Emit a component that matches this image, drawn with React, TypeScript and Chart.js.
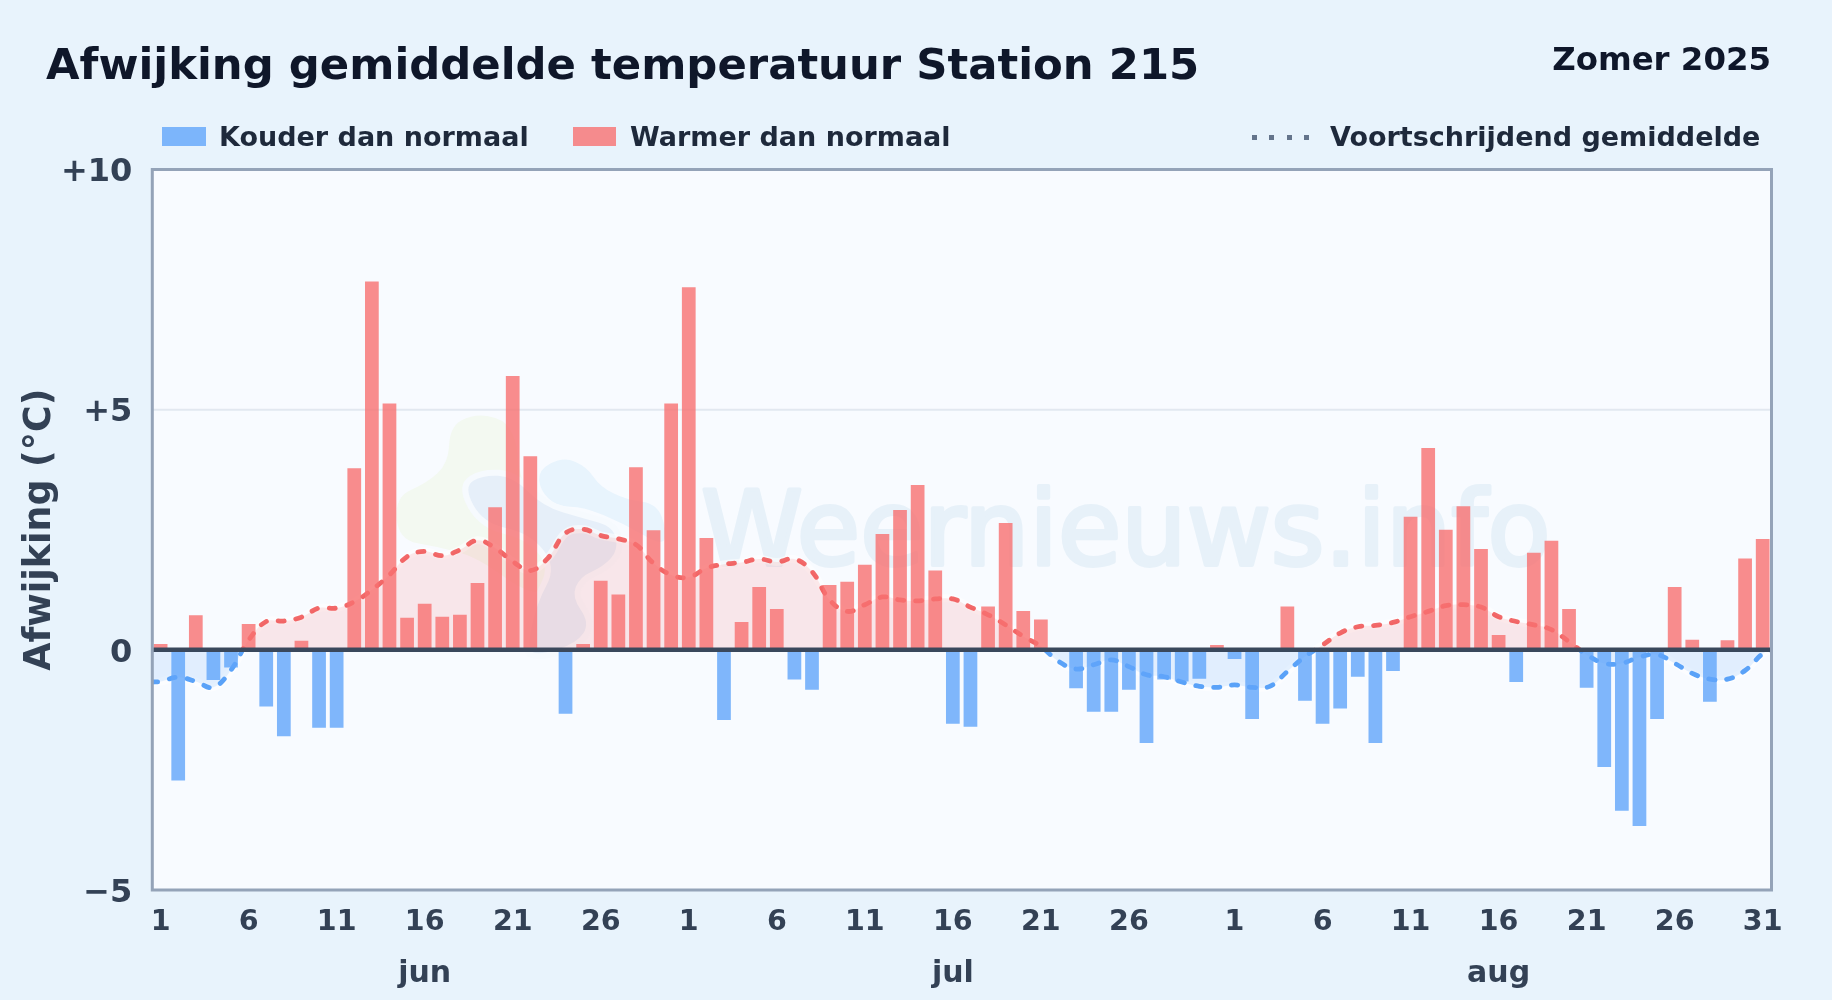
import React, { useEffect, useRef } from "react";
import { Chart, registerables } from "chart.js";

Chart.register(...registerables);

const junValues = [0.12, -2.72, 0.72, -0.63, -0.37, 0.54, -1.18, -1.8, 0.19, -1.62, -1.62, 3.78, 7.67, 5.13, 0.67, 0.96, 0.69, 0.73, 1.39, 2.97, 5.7, 4.03, 0, -1.33, 0.12, 1.44, 1.15, 3.8, 2.49, 5.13];
const julValues = [7.55, 2.33, -1.46, 0.58, 1.31, 0.85, -0.62, -0.83, 1.35, 1.42, 1.77, 2.41, 2.91, 3.43, 1.65, -1.54, -1.6, 0.9, 2.64, 0.81, 0.63, 0, -0.8, -1.29, -1.29, -0.83, -1.94, -0.62, -0.66, -0.6, 0.1];
const augValues = [-0.19, -1.44, 0, 0.9, -1.06, -1.54, -1.22, -0.56, -1.94, -0.44, 2.77, 4.2, 2.5, 2.99, 2.1, 0.31, -0.67, 2.02, 2.27, 0.85, -0.79, -2.44, -3.35, -3.67, -1.44, 1.31, 0.21, -1.08, 0.2, 1.9, 2.31];

const junAvg = [-0.66, -0.57, -0.66, -0.78, -0.42, 0.2, 0.59, 0.6, 0.68, 0.87, 0.87, 1.0, 1.25, 1.56, 1.94, 2.05, 1.96, 2.08, 2.28, 2.12, 1.84, 1.65, 1.91, 2.43, 2.51, 2.38, 2.31, 2.19, 1.8, 1.56];
const julAvg = [1.51, 1.7, 1.78, 1.82, 1.89, 1.83, 1.89, 1.63, 1.04, 0.8, 0.94, 1.1, 1.04, 1.02, 1.06, 1.06, 0.89, 0.73, 0.52, 0.28, 0.07, -0.24, -0.4, -0.31, -0.21, -0.35, -0.52, -0.56, -0.67, -0.76, -0.78];
const augAvg = [-0.73, -0.78, -0.76, -0.45, -0.14, 0.1, 0.35, 0.48, 0.51, 0.57, 0.69, 0.8, 0.92, 0.94, 0.89, 0.69, 0.59, 0.52, 0.42, 0.17, -0.1, -0.28, -0.28, -0.15, -0.1, -0.28, -0.49, -0.61, -0.61, -0.43, -0.08];
const avgStart = -0.67;
const avgEnd = 0;

const yTickValues = [-5, 0, 5, 10];
const monthNames = ["jun", "jul", "aug"];
const title = "Afwijking gemiddelde temperatuur Station 215";
const subtitle = "Zomer 2025";
const legendCold = "Kouder dan normaal";
const legendWarm = "Warmer dan normaal";
const legendAvg = "Voortschrijdend gemiddelde";
const yAxisTitle = "Afwijking (°C)";
const watermark = "Weernieuws.info";

const values = [...junValues, ...julValues, ...augValues];
const monthLengths = [junValues.length, julValues.length, augValues.length];
const categories: string[] = [];
const dayTicks: string[] = [];
const monthTicks: string[] = [];
monthLengths.forEach((len, m) => {
  for (let d = 1; d <= len; d++) {
    categories.push(`${monthNames[m]} ${d}`);
    const hide = m === 1 && d === 31;
    dayTicks.push((d - 1) % 5 === 0 && !hide ? String(d) : "");
    monthTicks.push(d === 16 ? monthNames[m] : "");
  }
});
const avgPoints = [
  { x: -0.5, y: avgStart },
  ...[...junAvg, ...julAvg, ...augAvg].map((y, i) => ({ x: i, y })),
  { x: values.length - 0.5, y: avgEnd },
];

const BLUE = "rgba(96,165,250,0.8)";
const RED = "rgba(248,113,113,0.8)";
const FONT = '"DejaVu Sans", sans-serif';

// decorative logo behind the data, in page pixels of the reference
const toPage = (p: number[]) => [370 + p[0] / 3, 390 + p[1] / 3];
const greenBlob = [[240, 110], [310, 72], [400, 85], [440, 150], [445, 240], [500, 400], [565, 480], [585, 540], [540, 600], [470, 610], [320, 500], [200, 470], [85, 450], [75, 320], [170, 280], [235, 220]];
const midBlob = [[280, 290], [340, 255], [430, 260], [520, 350], [640, 385], [730, 410], [745, 480], [700, 530], [630, 560], [605, 620], [660, 700], [620, 760], [510, 795], [470, 780], [500, 640], [560, 530], [480, 430], [340, 400]];
const lightBlob = [[505, 240], [580, 200], [650, 230], [690, 290], [770, 330], [860, 340], [890, 420], [880, 470], [760, 400], [640, 350], [560, 350], [510, 300]];

function blobPath(ctx: CanvasRenderingContext2D, pts: number[][]) {
  const p = pts.map(toPage);
  ctx.beginPath();
  const n = p.length;
  ctx.moveTo((p[n - 1][0] + p[0][0]) / 2, (p[n - 1][1] + p[0][1]) / 2);
  for (let i = 0; i < n; i++) {
    const next = p[(i + 1) % n];
    ctx.quadraticCurveTo(p[i][0], p[i][1], (p[i][0] + next[0]) / 2, (p[i][1] + next[1]) / 2);
  }
  ctx.closePath();
}

const decoPlugin = {
  id: "deco",
  beforeDatasetsDraw(chart: any) {
    const { ctx, chartArea: a } = chart;
    ctx.save();
    ctx.fillStyle = "#f8fbff";
    ctx.fillRect(a.left, a.top, a.right - a.left, a.bottom - a.top);
    const { y } = chart.scales;
    ctx.strokeStyle = "#e2e8f0";
    ctx.lineWidth = 2;
    ctx.beginPath();
    ctx.moveTo(a.left, y.getPixelForValue(5));
    ctx.lineTo(a.right, y.getPixelForValue(5));
    ctx.stroke();
    blobPath(ctx, greenBlob);
    ctx.fillStyle = "#f3f9f1";
    ctx.fill();
    blobPath(ctx, lightBlob);
    ctx.fillStyle = "#e8f4fd";
    ctx.fill();
    blobPath(ctx, midBlob);
    ctx.strokeStyle = "#f6fafe";
    ctx.lineWidth = 12;
    ctx.stroke();
    ctx.fillStyle = "#e6eff9";
    ctx.fill();
    ctx.fillStyle = "#e7f1f9";
    ctx.strokeStyle = "#e7f1f9";
    ctx.lineWidth = 4;
    ctx.lineJoin = "round";
    ctx.font = `103px ${FONT}`;
    ctx.textAlign = "left";
    ctx.textBaseline = "alphabetic";
    ctx.fillText(watermark, 701, 565);
    ctx.strokeText(watermark, 701, 565);
    ctx.restore();
  },
  afterDatasetsDraw(chart: any) {
    const { ctx, chartArea: a } = chart;
    const zero = chart.scales.y.getPixelForValue(0);
    ctx.save();
    ctx.strokeStyle = "#3a485c";
    ctx.lineWidth = 4.5;
    ctx.beginPath();
    ctx.moveTo(a.left, zero);
    ctx.lineTo(a.right, zero);
    ctx.stroke();
    ctx.strokeStyle = "#94a3b8";
    ctx.lineWidth = 3;
    ctx.strokeRect(a.left + 0.5, a.top, a.right - a.left - 0.5, a.bottom - a.top);
    ctx.restore();
  },
};

function splitStroke(context: any) {
  const chart = context.chart;
  const a = chart.chartArea;
  if (!a) return "#f87171";
  const z = chart.scales.y.getPixelForValue(0);
  const g = chart.ctx.createLinearGradient(0, a.top, 0, a.bottom);
  const s = (z - a.top) / (a.bottom - a.top);
  g.addColorStop(0, "rgba(239,68,68,0.8)");
  g.addColorStop(s, "rgba(239,68,68,0.8)");
  g.addColorStop(s, "#5aa2f8");
  g.addColorStop(1, "#5aa2f8");
  return g;
}

const text = (style: React.CSSProperties): React.CSSProperties => ({
  position: "absolute",
  fontFamily: FONT,
  fontWeight: 700,
  whiteSpace: "nowrap",
  lineHeight: 1,
  ...style,
});

export default function App() {
  const ref = useRef<HTMLCanvasElement>(null);
  useEffect(() => {
    document.body.style.margin = "0";
    const chart = new Chart(ref.current as HTMLCanvasElement, {
      type: "bar",
      data: {
        labels: categories,
        datasets: [
          {
            type: "bar",
            data: values,
            xAxisID: "x",
            yAxisID: "y",
            order: 1,
            grouped: false,
            backgroundColor: values.map((v) => (v < 0 ? BLUE : RED)),
            barPercentage: 0.78,
            categoryPercentage: 1,
          },
          {
            type: "line",
            data: avgPoints,
            xAxisID: "xAvg",
            yAxisID: "y",
            order: 2,
            borderColor: splitStroke,
            borderWidth: 4.8,
            borderDash: [6, 12],
            borderCapStyle: "round",
            tension: 0.4,
            pointRadius: 0,
            fill: {
              target: { value: 0 },
              above: "rgba(248,113,113,0.15)",
              below: "rgba(96,165,250,0.15)",
            },
          },
          {
            type: "line",
            data: avgPoints,
            xAxisID: "xAvg",
            yAxisID: "y",
            order: 3,
            borderColor: "rgba(255,255,255,0.55)",
            borderWidth: 8,
            tension: 0.4,
            pointRadius: 0,
            fill: false,
          },
        ],
      } as any,
      options: {
        animation: false,
        responsive: false,
        layout: { padding: { top: 169.5, right: 60.5, left: 0, bottom: 0 } },
        plugins: { legend: { display: false }, tooltip: { enabled: false } },
        scales: {
          x: {
            type: "category",
            position: "bottom",
            offset: true,
            grid: { display: false },
            border: { display: false },
            afterFit: (s: any) => { s.height = 55; },
            ticks: {
              autoSkip: false,
              maxRotation: 0,
              minRotation: 0,
              padding: 7,
              color: "#334155",
              font: { family: FONT, weight: "bold", size: 28.5 },
              callback: (_: any, i: number) => dayTicks[i],
            },
          },
          xMonth: {
            type: "category",
            position: "bottom",
            labels: monthTicks,
            offset: true,
            grid: { display: false },
            border: { display: false },
            afterFit: (s: any) => { s.height = 55; },
            ticks: {
              autoSkip: false,
              maxRotation: 0,
              minRotation: 0,
              padding: 3,
              color: "#334155",
              font: { family: FONT, weight: "bold", size: 30 },
              callback: (_: any, i: number) => monthTicks[i],
            },
          },
          xAvg: { type: "linear", display: false, offset: false, min: -0.5, max: values.length - 0.5 },
          y: { type: "linear", display: false, min: -5, max: 10 },
          yLabels: {
            type: "linear",
            position: "left",
            min: -4.927,
            max: 10.073,
            grid: { display: false },
            border: { display: false },
            afterFit: (s: any) => { s.width = 151.8; },
            afterBuildTicks: (s: any) => { s.ticks = yTickValues.map((value) => ({ value })); },
            title: {
              display: true,
              text: yAxisTitle,
              color: "#334155",
              padding: { top: 19, bottom: 0 },
              font: { family: FONT, weight: "bold", size: 36.4 },
            },
            ticks: {
              padding: 11.5,
              color: "#334155",
              font: { family: FONT, weight: "bold", size: 32 },
              callback: (v: any) => (v > 0 ? `+${v}` : v < 0 ? `\u2212${Math.abs(v)}` : "0"),
            },
          },
        },
      } as any,
      plugins: [decoPlugin],
    });
    return () => chart.destroy();
  }, []);

  return (
    <div
      style={{
        position: "absolute",
        left: 0,
        top: 0,
        width: 1832,
        height: 1000,
        overflow: "hidden",
        background: "#e8f3fc",
      }}
    >
      <canvas ref={ref} width={1832} height={1000} style={{ position: "absolute", left: 0, top: 0 }} />
      <div style={text({ left: 46, top: 43, fontSize: 43.35, color: "#0f172a" })}>{title}</div>
      <div style={text({ right: 61, top: 43, fontSize: 32.4, color: "#0f172a" })}>{subtitle}</div>
      <div style={{ position: "absolute", left: 162, top: 127, width: 44, height: 19, background: BLUE }} />
      <div style={text({ left: 219, top: 123, fontSize: 27, color: "#1e293b" })}>{legendCold}</div>
      <div style={{ position: "absolute", left: 573, top: 127, width: 43, height: 19, background: RED }} />
      <div style={text({ left: 630, top: 123, fontSize: 27, color: "#1e293b" })}>{legendWarm}</div>
      {[0, 1, 2, 3].map((i) => (
        <div key={i} style={{ position: "absolute", left: 1252 + i * 17.3, top: 135, width: 5, height: 5, background: "#64748b" }} />
      ))}
      <div style={text({ left: 1330, top: 123, fontSize: 27, color: "#1e293b" })}>{legendAvg}</div>
    </div>
  );
}
